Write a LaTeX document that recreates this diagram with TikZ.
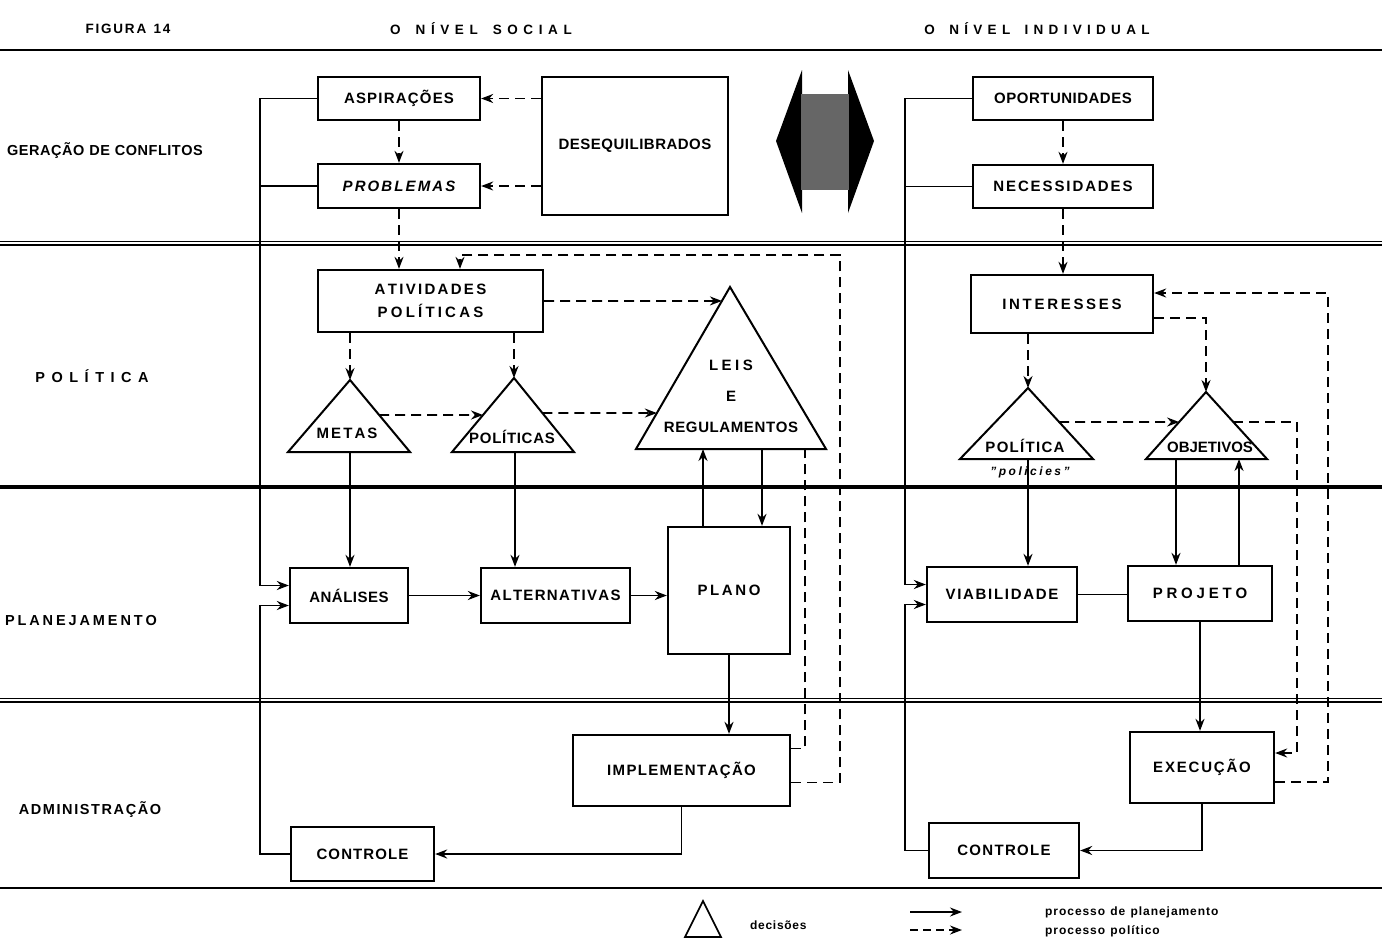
\documentclass[tikz,border=0pt]{standalone}
\usepackage{fontspec}
\setmainfont{Liberation Sans}
\usetikzlibrary{arrows.meta,calc}
\newdimen\lsk
\let\LSend\relax
\newcommand\LS[2]{\lsk=#1\relax\LSloop#2\LSend}
\def\LSloop#1{\ifx#1\LSend\kern-\lsk\else#1\kern\lsk\expandafter\LSloop\fi}
\tikzset{
  bx/.style={draw, line width=2.3pt, inner sep=0pt, font=\bfseries\fontsize{15}{15}\selectfont},
  pl/.style={line width=1.9pt, -{Stealth[length=12pt,width=9pt]}},
  po/.style={line width=1.7pt, dash pattern=on 10pt off 6pt, -{Stealth[length=12pt,width=9pt]}},
  ln/.style={line width=1.9pt},
  dl/.style={line width=1.7pt, dash pattern=on 10pt off 6pt},
  tri/.style={draw, line width=2pt, line join=miter},
  tl/.style={inner sep=0pt, font=\bfseries\fontsize{15}{15}\selectfont},
  hd/.style={inner sep=0pt, font=\bfseries\fontsize{13.5}{13.5}\selectfont},
  sl/.style={inner sep=0pt, font=\bfseries\fontsize{14.5}{14.5}\selectfont},
  lg/.style={inner sep=0pt, anchor=west, font=\bfseries\fontsize{12}{12}\selectfont},
  rule/.style={line width=1.7pt},
}
\begin{document}
\begin{tikzpicture}[x=1pt,y=-1pt]
\path[fill=white] (0,0) rectangle (1382,948);
\useasboundingbox (0,0) rectangle (1382,948);

% rules
\draw[rule] (0,50) -- (1382,50);
\draw[line width=1.6pt] (0,241.5) -- (1382,241.5);
\draw[line width=1.6pt] (0,245.2) -- (1382,245.2);
\draw[line width=3.2pt] (0,487) -- (1382,487);
\draw[line width=1.6pt] (0,698.5) -- (1382,698.5);
\draw[line width=1.6pt] (0,702.2) -- (1382,702.2);
\draw[rule] (0,888) -- (1382,888);

% headers and side labels
\node[hd] (fig) at (128,29) {\LS{1.8pt}{FIGURA~14}};
\node[hd] (hsoc) at (481,29) {\LS{5.6pt}{O~NÍVEL~SOCIAL}};
\node[hd] (hind) at (1037,29) {\LS{5.3pt}{O~NÍVEL~INDIVIDUAL}};
\node[sl] (lger) at (105,151) {\LS{0.5pt}{GERAÇÃO~DE~CONFLITOS}};
\node[sl] (lpol) at (92,376) {\LS{6.5pt}{POLÍTICA}};
\node[sl] (lpla) at (81,620) {\LS{2.9pt}{PLANEJAMENTO}};
\node[sl] (ladm) at (90,810) {\LS{1.6pt}{ADMINISTRAÇÃO}};

% central double arrow
\fill (802,70) -- (776,141) -- (802,213) -- cycle;
\fill (848,70) -- (874,141) -- (848,213) -- cycle;
\fill[black!60] (801,94) rectangle (849,190);

% ---------- social level boxes
\node[bx, minimum width=162pt, minimum height=43pt] (asp) at (399,98.5) {\LS{1.2pt}{ASPIRAÇÕES}};
\node[bx, minimum width=162pt, minimum height=44pt, font=\bfseries\itshape\fontsize{15}{15}\selectfont] (prob) at (399,186) {\LS{2.1pt}{PROBLEMAS}};
\node[bx, minimum width=186pt, minimum height=138pt] (deseq) at (635,146) {\LS{0.5pt}{DESEQUILIBRADOS}};
\node[bx, minimum width=225pt, minimum height=62pt, align=center] (ativ) at (430.5,301) {\LS{2.3pt}{ATIVIDADES}\\[8pt]\LS{3.2pt}{POLÍTICAS}};
\node[bx, minimum width=118pt, minimum height=55pt] (ana) at (349,595.5) {\LS{0.5pt}{ANÁLISES}};
\node[bx, minimum width=149pt, minimum height=55pt] (alt) at (555.5,595.5) {\LS{1.3pt}{ALTERNATIVAS}};
\node[bx, minimum width=122pt, minimum height=127pt] (plano) at (729,590.5) {\LS{2.6pt}{PLANO}};
\node[bx, minimum width=217pt, minimum height=71pt] (impl) at (681.5,770.5) {\LS{1.35pt}{IMPLEMENTAÇÃO}};
\node[bx, minimum width=143pt, minimum height=54pt] (ctrlS) at (362.5,854) {\LS{1.1pt}{CONTROLE}};

% social triangles
\coordinate (metasA) at (350,380); \coordinate (metasL) at (288,452); \coordinate (metasR) at (410,452);
\draw[tri] (metasA) -- (metasL) -- (metasR) -- cycle;
\node[tl] (metasT) at (347,433) {\LS{2.1pt}{METAS}};
\coordinate (polSA) at (514,378); \coordinate (polSL) at (452,452); \coordinate (polSR) at (574,452);
\draw[tri] (polSA) -- (polSL) -- (polSR) -- cycle;
\node[tl] (polST) at (512,437) {\LS{0.7pt}{POLÍTICAS}};
\coordinate (leisA) at (730,287); \coordinate (leisL) at (636,449); \coordinate (leisR) at (826,449);
\draw[tri] (leisA) -- (leisL) -- (leisR) -- cycle;
\node[tl] (leisT1) at (731,365) {\LS{3.5pt}{LEIS}};
\node[tl] (leisT2) at (731,396) {E};
\node[tl] (leisT3) at (731,427) {\LS{0.6pt}{REGULAMENTOS}};

% ---------- individual level boxes
\node[bx, minimum width=180pt, minimum height=43pt] (opor) at (1063,98.5) {\LS{0.5pt}{OPORTUNIDADES}};
\node[bx, minimum width=180pt, minimum height=43pt] (nec) at (1063,186.5) {\LS{1.9pt}{NECESSIDADES}};
\node[bx, minimum width=182pt, minimum height=58pt] (int) at (1062,304) {\LS{2.7pt}{INTERESSES}};
\node[bx, minimum width=150pt, minimum height=55pt] (viab) at (1002,594.5) {\LS{1.7pt}{VIABILIDADE}};
\node[bx, minimum width=144pt, minimum height=55pt] (proj) at (1200,593.5) {\LS{3.8pt}{PROJETO}};
\node[bx, minimum width=144pt, minimum height=71pt] (exec) at (1202,767.5) {\LS{1.8pt}{EXECUÇÃO}};
\node[bx, minimum width=150pt, minimum height=55pt] (ctrlI) at (1004,850.5) {\LS{1.3pt}{CONTROLE}};

% individual triangles
\coordinate (polIA) at (1028,388); \coordinate (polIL) at (960,459); \coordinate (polIR) at (1093,459);
\draw[tri] (polIA) -- (polIL) -- (polIR) -- cycle;
\node[tl] (polIT) at (1025,446) {\LS{1.3pt}{POLÍTICA}};
\node[inner sep=0pt, font=\bfseries\itshape\fontsize{12}{12}\selectfont] (polIq) at (1030,472) {\LS{2.5pt}{"policies"}};
\coordinate (objA) at (1206,392); \coordinate (objL) at (1146,459); \coordinate (objR) at (1267,459);
\draw[tri] (objA) -- (objL) -- (objR) -- cycle;
\node[tl] (objT) at (1210,447) {OBJETIVOS};

% ---------- helper coordinates
\coordinate (lxS) at (260,0);
\coordinate (lxI) at (905,0);
\coordinate (leisW1) at ($(leisA)!0.086!(leisL)$);
\coordinate (metasE) at ($(metasA)!0.486!(metasR)$);
\coordinate (polSW) at ($(polSA)!0.5!(polSL)$);
\coordinate (polSE) at ($(polSA)!0.473!(polSR)$);
\coordinate (leisW2) at ($(leisA)!0.778!(leisL)$);
\coordinate (metasB) at (350,452);
\coordinate (polSB) at (515,452);
\coordinate (leisU) at (703,449);
\coordinate (leisD) at (762,449);
\coordinate (leisX) at (805,449);
\coordinate (rS) at (840,255);
\coordinate (polIE) at ($(polIA)!0.479!(polIR)$);
\coordinate (objW) at ($(objA)!0.448!(objL)$);
\coordinate (objE) at ($(objA)!0.448!(objR)$);
\coordinate (rI1) at (1297,0);
\coordinate (rI2) at (1328,0);
\coordinate (polIB) at (1028,459);
\coordinate (objB1) at (1176,459);
\coordinate (objB2) at (1239,459);

% ---------- social connectors
\draw[po] (asp.east -| deseq.west) -- (asp.east);
\draw[po] (prob.east -| deseq.west) -- (prob.east);
\draw[po] (asp.south) -- (prob.north);
\draw[po] (prob.south) -- (prob.south |- ativ.north);
\draw[po] (ativ.east) -- (leisW1);
\draw[po] (metasA |- ativ.south) -- (metasA);
\draw[po] (polSA |- ativ.south) -- (polSA);
\draw[po] (metasE) -- (polSW);
\draw[po] (polSE) -- (leisW2);
\draw[pl] (metasB) -- (metasB |- ana.north);
\draw[pl] (polSB) -- (polSB |- alt.north);
\draw[pl] (leisU |- plano.north) -- (leisU);
\draw[pl] (leisD) -- (leisD |- plano.north);
\draw[pl] (ana.east) -- (alt.west);
\draw[pl] (alt.east) -- (alt.east -| plano.west);
\draw[pl] (plano.south) -- (plano.south |- impl.north);
\draw[pl] (impl.south) |- (ctrlS.east);
\draw[pl] (asp.west) -- (asp.west -| lxS) |- ([yshift=10pt]ana.west);
\draw[ln] (prob.west) -- (prob.west -| lxS);
\draw[pl] (ctrlS.west) -- (ctrlS.west -| lxS) |- ([yshift=-10pt]ana.west);
\draw[dl] ([yshift=22pt]impl.east) -| (leisX);
\draw[po] ([yshift=-12pt]impl.east) -| (rS) -| ([xshift=29.5pt]ativ.north);

% ---------- individual connectors
\draw[po] (opor.south) -- (nec.north);
\draw[po] (nec.south) -- (nec.south |- int.north);
\draw[po] (polIA |- int.south) -- (polIA);
\draw[po] ([yshift=-14pt]int.east) -| (objA);
\draw[po] (polIE) -- (objW);
\draw[po] (objE) -- (objE -| rI1) |- ([yshift=14.5pt]exec.east);
\draw[po] ([yshift=-14.5pt]exec.east) -- ([yshift=-14.5pt]exec.east -| rI2) |- ([yshift=11pt]int.east);
\draw[pl] (polIB) -- (polIB |- viab.north);
\draw[pl] (objB1) -- (objB1 |- proj.north);
\draw[pl] (objB2 |- proj.north) -- (objB2);
\draw[ln] (viab.east) -- (viab.east -| proj.west);
\draw[pl] (proj.south) -- (proj.south |- exec.north);
\draw[pl] (exec.south) |- (ctrlI.east);
\draw[pl] (opor.west) -- (opor.west -| lxI) |- ([yshift=10pt]viab.west);
\draw[ln] (nec.west) -- (nec.west -| lxI);
\draw[pl] (ctrlI.west) -- (ctrlI.west -| lxI) |- ([yshift=-10pt]viab.west);

% ---------- legend
\coordinate (lgA) at (703,901); \coordinate (lgL) at (685,937); \coordinate (lgR) at (721,937);
\draw[line width=1.6pt] (lgA) -- (lgL) -- (lgR) -- cycle;
\node[lg] (lgdec) at (750,925) {\LS{0.7pt}{decisões}};
\coordinate (lg1a) at (910,912); \coordinate (lg1b) at (962,912);
\coordinate (lg2a) at (910,930); \coordinate (lg2b) at (962,930);
\draw[pl, line width=1.5pt] (lg1a) -- (lg1b);
\draw[po, line width=1.5pt, dash pattern=on 8pt off 5pt] (lg2a) -- (lg2b);
\node[lg] (lgpl) at (1045,912) {\LS{0.95pt}{processo~de~planejamento}};
\node[lg] (lgpo) at (1045,931) {\LS{0.95pt}{processo~político}};
\end{tikzpicture}
\end{document}
